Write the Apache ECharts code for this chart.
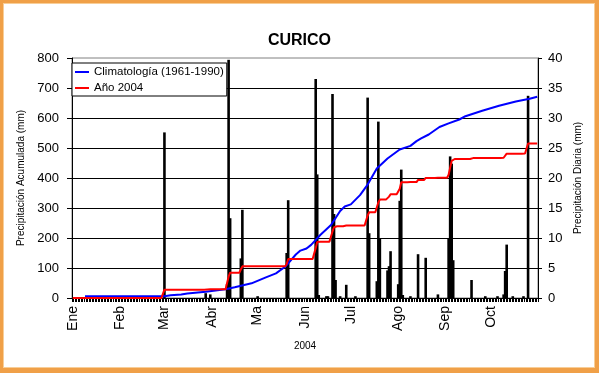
<!DOCTYPE html>
<html>
<head>
<meta charset="utf-8">
<script src="https://cdn.jsdelivr.net/npm/echarts@6/dist/echarts.min.js"></script>
<style>
  html, body { margin: 0; padding: 0; background: #fff; }
  #wrap { position: relative; width: 599px; height: 373px; overflow: hidden; }
  #chart { position: absolute; left: 0; top: 0; width: 599px; height: 373px; }
  #frame { position: absolute; left: 0; top: 0; width: 599px; height: 373px; box-sizing: border-box;
           border-style: solid; border-color: #F0A048; border-width: 3px 4px 5px 3px; pointer-events: none; }
  #frame2 { position: absolute; left: 3px; top: 3px; width: 592px; height: 365px; box-sizing: border-box;
           border: 1px solid #F8CE98; pointer-events: none; }
</style>
</head>
<body>
<div id="wrap">
  <div id="chart"></div>
  <div id="frame"></div>
  <div id="frame2"></div>
</div>
<script>
// ---- data ----
const monthNames   = ['Ene', 'Feb', 'Mar', 'Abr', 'Ma', 'Jun', 'Jul', 'Ago', 'Sep', 'Oct'];
const monthLengths = [31, 29, 31, 30, 31, 30, 31, 31, 30, 31];

// daily precipitation 2004 (day index from 1 Jan, mm)
const rainDay = [60, 87, 90, 101, 102, 103, 110, 111, 121, 140, 141,
                 159, 160, 161, 166, 167, 170, 171, 172, 175, 179, 185,
                 193, 194, 199, 200, 201, 206, 207, 208, 213, 214, 215, 216,
                 221, 226, 231, 239, 246, 247, 248, 249, 261, 270, 278,
                 282, 283, 284, 288, 295, 298];
const rainMm  = [27.6, 0.8, 0.6, 2.3, 39.7, 13.3, 6.6, 14.7, 0.3, 7.5, 16.3,
                 36.5, 20.6, 0.5, 0.3, 0.3, 34.0, 14.0, 3.0, 0.3, 2.2, 0.3,
                 33.4, 10.8, 2.8, 29.4, 9.9, 4.6, 5.3, 7.8, 2.3, 16.2, 21.4, 0.5,
                 0.3, 7.3, 6.7, 0.6, 10.0, 23.6, 22.4, 6.3, 3.0, 0.3, 0.3,
                 0.6, 4.5, 8.9, 0.3, 0.3, 33.7];

// climatology 1961-1990 accumulated (day index, mm)
const climDay = [8, 59, 61, 64, 71, 75, 87, 100, 106, 117, 126, 133, 139, 146, 149, 153, 156,
                 162, 169, 175, 178, 182, 188, 193, 199, 206, 214, 221, 225, 228, 233, 240,
                 246, 253, 257, 268, 279, 290, 299, 304];
const climMm  = [5.5, 5.5, 7, 9, 12, 15, 21, 29, 36, 49, 68, 82, 104, 145, 158, 165, 177,
                 210, 243, 290, 305, 312, 343, 378, 432, 465, 495, 507, 523, 532, 545, 570,
                 582, 595, 606, 624, 641, 655, 664, 671];

// ---- build ----
const nDays = monthLengths.reduce((a, b) => a + b, 0);
const days = [];
for (let i = 0; i < nDays; i++) days.push(String(i));
const monthStartLabel = {};
let acc = 0;
monthLengths.forEach((len, m) => { monthStartLabel[acc] = monthNames[m]; acc += len; });

const daily = new Array(nDays).fill(0);
rainDay.forEach((d, i) => { daily[d] = rainMm[i]; });
let run = 0;
const cumulative = daily.map(v => { run += v; return Math.round(run * 10) / 10; });
const climData = climDay.map((d, i) => [d, climMm[i]]);

const FONT = '"Liberation Sans", Arial, sans-serif';
const chart = echarts.init(document.getElementById('chart'), null, { renderer: 'canvas' });
chart.setOption({
  animation: false,
  backgroundColor: 'transparent',
  textStyle: { fontFamily: FONT, color: '#000' },
  title: {
    text: 'CURICO', left: 'center', top: 28,
    textStyle: { fontFamily: FONT, fontSize: 16, fontWeight: 'bold', color: '#000' }
  },
  legend: {
    orient: 'vertical', left: 72, top: 63,
    backgroundColor: '#fff', borderColor: '#000', borderWidth: 1, borderRadius: 0,
    padding: [2, 3, 1, 3], itemGap: 2, itemWidth: 14, itemHeight: 2,
    icon: 'rect',
    textStyle: { fontFamily: FONT, fontSize: 11.5, color: '#000', lineHeight: 14 },
    data: ['Climatología (1961-1990)', 'Año 2004']
  },
  grid: {
    left: 72, right: 61, top: 58, bottom: 75,
    show: true, borderColor: '#808080', borderWidth: 1, backgroundColor: 'transparent',
    containLabel: false, outerBoundsMode: 'none'
  },
  xAxis: {
    type: 'category', data: days, boundaryGap: true,
    name: '2004', nameLocation: 'middle', nameGap: 43,
    nameTextStyle: { fontFamily: FONT, fontSize: 10, color: '#000' },
    axisLine: { show: true, lineStyle: { color: '#000', width: 1 } },
    axisTick: { show: true, interval: 0, length: 4, lineStyle: { color: '#000', width: 1 } },
    axisLabel: {
      show: true, rotate: 90, margin: 8, fontSize: 14, color: '#000', fontFamily: FONT,
      interval: (idx) => monthStartLabel[idx] !== undefined,
      formatter: (val, idx) => monthStartLabel[idx] || ''
    },
    splitLine: { show: false }
  },
  yAxis: [{
    type: 'value', min: 0, max: 800, interval: 100, position: 'left',
    name: 'Precipitación Acumulada (mm)', nameLocation: 'middle', nameRotate: 90, nameGap: 34,
    nameTextStyle: { fontFamily: FONT, fontSize: 10, color: '#000' },
    axisLine: { show: true, lineStyle: { color: '#000', width: 1 } },
    axisTick: { show: true, length: 5, lineStyle: { color: '#000' } },
    axisLabel: { fontSize: 13, color: '#000', margin: 13, fontFamily: FONT },
    splitLine: { show: true, showMaxLine: false, lineStyle: { color: '#000', width: 1 } }
  }, {
    type: 'value', min: 0, max: 40, interval: 5, position: 'right',
    name: 'Precipitación Diaria (mm)', nameLocation: 'middle', nameRotate: 90, nameGap: 29,
    nameTextStyle: { fontFamily: FONT, fontSize: 10, color: '#000' },
    axisLine: { show: true, lineStyle: { color: '#000', width: 1 } },
    axisTick: { show: true, length: 4, lineStyle: { color: '#000' } },
    axisLabel: { fontSize: 13, color: '#000', margin: 10, fontFamily: FONT },
    splitLine: { show: false }
  }],
  series: [{
    name: 'Diaria 2004', type: 'bar', yAxisIndex: 1, data: daily,
    barWidth: 2.6, itemStyle: { color: '#000' }, silent: true
  }, {
    name: 'Climatología (1961-1990)', type: 'line', yAxisIndex: 0, data: climData,
    showSymbol: false, symbol: 'none', color: '#0000FF',
    lineStyle: { color: '#0000FF', width: 2 }, silent: true
  }, {
    name: 'Año 2004', type: 'line', yAxisIndex: 0, data: cumulative,
    showSymbol: false, symbol: 'none', color: '#FF0000',
    lineStyle: { color: '#FF0000', width: 2 }, silent: true
  }]
});
</script>
</body>
</html>
